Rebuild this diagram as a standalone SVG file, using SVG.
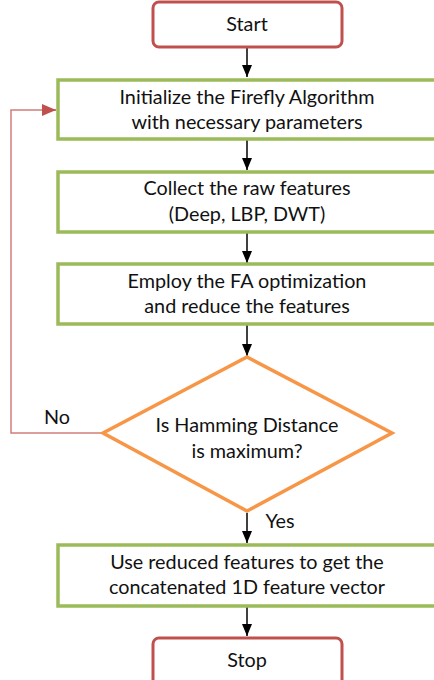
<svg xmlns="http://www.w3.org/2000/svg" width="434" height="680" viewBox="0 0 434 680">
<style>
text{font-family:"Lato","Liberation Sans",sans-serif;font-size:19.8px;fill:#111;text-anchor:middle}
.term{fill:#fff;stroke:#c0504d;stroke-width:3}
.proc{fill:#fff;stroke:#9bbb59;stroke-width:3.5}
.dec{fill:#fff;stroke:#f79646;stroke-width:3.5}
.ar{stroke:#000;stroke-width:1.5;fill:none}
.fb{stroke:#c0504d;stroke-opacity:0.75;stroke-width:1.5;fill:none}
</style>
<defs>
<marker id="ah" markerWidth="12" markerHeight="10" refX="12" refY="5" orient="auto" markerUnits="userSpaceOnUse"><path d="M0,0 L12,5 L0,10 z" fill="#000"/></marker>
<marker id="ahr" markerWidth="14" markerHeight="12" refX="14" refY="6" orient="auto" markerUnits="userSpaceOnUse"><path d="M0,0 L14,6 L0,12 z" fill="#c0504d"/></marker>
</defs>
<g id="connectors">
<line class="ar" x1="247" y1="48" x2="247" y2="77" marker-end="url(#ah)"/>
<line class="ar" x1="247" y1="140" x2="247" y2="170" marker-end="url(#ah)"/>
<line class="ar" x1="247" y1="233" x2="247" y2="263" marker-end="url(#ah)"/>
<line class="ar" x1="247" y1="325" x2="247" y2="356" marker-end="url(#ah)"/>
<line class="ar" x1="247" y1="513" x2="247" y2="543" marker-end="url(#ah)"/>
<line class="ar" x1="247" y1="607" x2="247" y2="636" marker-end="url(#ah)"/>
<polyline class="fb" points="103,433 11,433 11,110 43,110"/>
<line x1="43" y1="110" x2="56" y2="110" stroke="#c0504d" stroke-width="1.5" marker-end="url(#ahr)"/>
<text x="57" y="424">No</text>
<text x="280" y="528">Yes</text>
</g>
<g id="start"><rect class="term" x="153" y="2" width="189" height="45" rx="6"/><text x="247" y="31">Start</text></g>
<g id="init"><rect class="proc" x="58" y="80" width="380" height="59"/><text x="247" y="104">Initialize the Firefly Algorithm</text><text x="247" y="129">with necessary parameters</text></g>
<g id="collect"><rect class="proc" x="58" y="172" width="380" height="60"/><text x="247" y="195">Collect the raw features</text><text x="247" y="221">(Deep, LBP, DWT)</text></g>
<g id="employ"><rect class="proc" x="58" y="264" width="380" height="60"/><text x="247" y="288">Employ the FA optimization</text><text x="247" y="313">and reduce the features</text></g>
<g id="decision"><polygon class="dec" points="247,357 392,433 247,511 103,433"/><text x="247" y="432">Is Hamming Distance</text><text x="247" y="458">is maximum?</text></g>
<g id="use"><rect class="proc" x="58" y="545" width="380" height="61"/><text x="247" y="569">Use reduced features to get the</text><text x="247" y="594">concatenated 1D feature vector</text></g>
<g id="stop"><rect class="term" x="153" y="638" width="189" height="50" rx="6"/><text x="247" y="667">Stop</text></g>
</svg>
